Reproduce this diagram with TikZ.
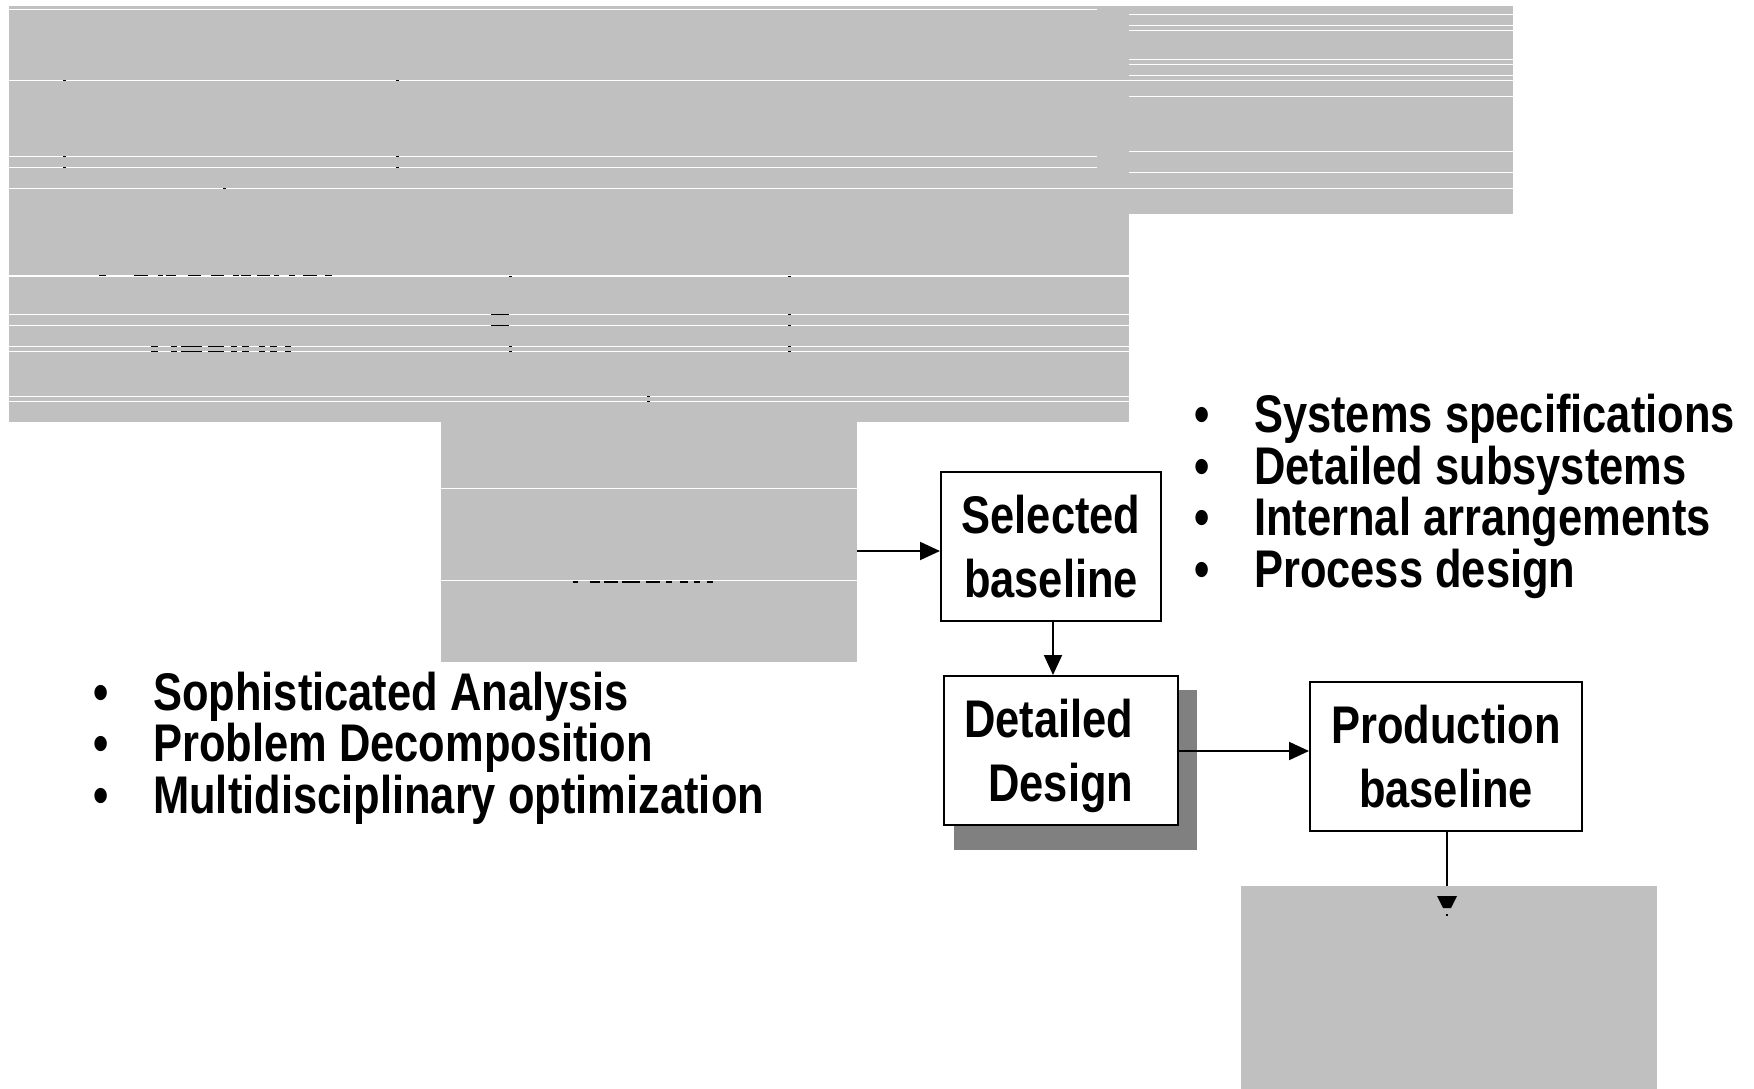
\documentclass[tikz,border=0pt]{standalone}
\usepackage{fontspec}
\setmainfont{Liberation Sans}[FakeStretch=0.82]
\usetikzlibrary{arrows.meta}
\definecolor{maskgray}{RGB}{192,192,192}
\definecolor{shadegray}{RGB}{128,128,128}
% two centred / right-aligned lines, baseline of the first line is the node base
\newcommand\twoc[2]{\vtop{\baselineskip=64pt\lineskiplimit=-1000pt
  \hbox{\makebox[0pt][c]{#1}}\hbox{\makebox[0pt][c]{#2}}}}
\newcommand\twor[2]{\vtop{\baselineskip=64pt\lineskiplimit=-1000pt
  \hbox{\makebox[0pt][r]{#1}}\hbox{\makebox[0pt][r]{#2}}}}
\newcommand\bitem[1]{\hbox{\makebox[20pt][c]{\textbullet}\hspace{42pt}#1}}
\tikzset{
  panel/.style={fill=maskgray},
  rule/.style={draw=white, line width=1.2pt},
  speck/.style={fill=black},
  box/.style={draw=black, line width=2pt, fill=white, inner sep=0pt, anchor=north west},
  lbl/.style={inner sep=0pt, font=\fontsize{53}{64}\selectfont\bfseries},
  conn/.style={draw=black, line width=2pt},
  arr/.style={conn, -{Triangle[length=20pt,width=18pt]}},
}
\begin{document}
\begin{tikzpicture}[x=1pt,y=-1pt]
\useasboundingbox (0,0) rectangle (1754,1089);
\fill[white] (0,0) rectangle (1754,1089);

% grey panels
\fill[panel] (9,6) rectangle (1129,422);
\fill[panel] (1129,6) rectangle (1513,214);
\fill[panel] (441,422) rectangle (857,662);
\fill[panel] (1241,886) rectangle (1657,1089);

% white rules across the panels
\foreach \y in {9.5,156.5,167.5} \draw[rule] (9,\y) -- (1097,\y);
\foreach \y in {80.5,188.5} \draw[rule] (9,\y) -- (1513,\y);
\foreach \y in {276,314.5,325.5,346.5,351.5,396.5,401.5} \draw[rule] (9,\y) -- (1129,\y);
\foreach \y in {14.5,25.5,30.5,59.5,64.5,75.5,96.5,151.5,172.5} \draw[rule] (1129,\y) -- (1513,\y);
\foreach \y in {488.5,580.5} \draw[rule] (441,\y) -- (857,\y);

% small black marks on the rules
\foreach \x/\y in {63/80,396/80,63/156,396/156,63/167,396/167,223/188,
                   509/275.5,788/275.5,788/314,788/325,509/346,788/346,509/351,788/351,647/396,647/401}
  \fill[speck] (\x,\y) rectangle ++(3,1.3);
\foreach \a/\b in {99/106,134/148,158/163,166/176,188/201,211/224,233/239,241/251,257/270,274/279,289/295,303/317,325/332}
  \fill[speck] (\a,274.6) rectangle (\b,275.8);
\foreach \a/\b in {151/158,171/177,181/202,208/224,231/237,242/249,259/265,270/277,285/291}
  {\fill[speck] (\a,345.8) rectangle (\b,347); \fill[speck] (\a,350.8) rectangle (\b,352);}
\foreach \y in {314,325} \fill[speck] (491,\y) rectangle (509,\y+1.2);
\foreach \a/\b in {573/578,590/600,604/618,622/640,646/660,666/672,680/688,694/700,707/713}
  \fill[speck] (\a,581.3) rectangle (\b,582.5);

% process boxes
\node[box, minimum width=220pt, minimum height=149pt] (sel) at (940,471) {};
\fill[shadegray] (954,690) rectangle (1197,850);
\node[box, minimum width=234pt, minimum height=149pt] (dd) at (943,675) {};
\node[box, minimum width=272pt, minimum height=149pt] (prod) at (1309,681) {};

\node[lbl, anchor=base] (selT) at ([yshift=-62.5pt]sel.north) {\twoc{Selected}{baseline}};
\node[lbl, anchor=base east] (ddT) at ([xshift=-45pt,yshift=-62pt]dd.north east) {\twor{Detailed}{Design}};
\node[lbl, anchor=base] (prodT) at ([yshift=-62.5pt]prod.north) {\twoc{Production}{baseline}};

% bullet lists
\node[lbl, anchor=base west] (specs) at (1192,432.5)
  {\vtop{\baselineskip=51.5pt\lineskiplimit=-1000pt
    \bitem{Systems specifications}\bitem{Detailed subsystems}
    \bitem{Internal arrangements}\bitem{Process design}}};
\node[lbl, anchor=base west] (methods) at (91,710)
  {\vtop{\baselineskip=51.5pt\lineskiplimit=-1000pt
    \bitem{Sophisticated Analysis}\bitem{Problem Decomposition}
    \bitem{Multidisciplinary optimization}}};

% connectors
\coordinate (midout) at (857,551);
\coordinate (downx) at (1053,0);
\coordinate (ddout) at (1178,751);
\coordinate (pend) at (1447,886);
\draw[arr] (midout) -- (midout -| sel.west);
\draw[arr] (sel.south -| downx) -- (dd.north -| downx);
\draw[arr] (ddout) -- (ddout -| prod.west);
\draw[conn] (prod.south -| pend) -- (pend);
% visible part of the head below the lower panel edge
\fill (1437,896) -- (1457,896) -- (1451,908) -- (1443,908) -- cycle;
\fill (1446.3,913.5) rectangle (1447.7,915.5);
\end{tikzpicture}
\end{document}
